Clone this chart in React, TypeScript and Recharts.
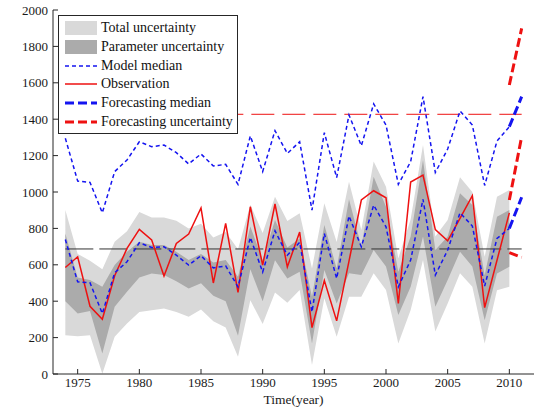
import React from 'react';
import { ComposedChart, Area, Line, XAxis, YAxis, ReferenceLine, Legend } from 'recharts';

// yearly series, 1974-2010
const years = [
  1974, 1975, 1976, 1977, 1978, 1979, 1980, 1981, 1982, 1983, 1984, 1985, 1986,
  1987, 1988, 1989, 1990, 1991, 1992, 1993, 1994, 1995, 1996, 1997, 1998, 1999,
  2000, 2001, 2002, 2003, 2004, 2005, 2006, 2007, 2008, 2009, 2010,
];
const observed = [
  585, 644, 372, 301, 540, 690, 795, 736, 538, 717, 769, 912, 500,
  828, 448, 919, 598, 934, 588, 780, 255, 514, 292, 620, 956, 1007,
  968, 388, 1055, 1093, 793, 732, 855, 980, 365, 625, 885,
];
const modelMedian = [
  739, 506, 501, 332, 556, 617, 721, 695, 699, 653, 598, 650, 583,
  594, 479, 750, 560, 787, 653, 723, 341, 772, 525, 868, 699, 928,
  809, 479, 626, 960, 543, 681, 886, 813, 483, 745, 800,
];
const peakMedian = [
  1295, 1060, 1053, 886, 1112, 1176, 1276, 1249, 1258, 1216, 1154, 1209, 1143,
  1152, 1042, 1308, 1112, 1337, 1212, 1276, 901, 1326, 1079, 1423, 1254, 1484,
  1368, 1042, 1167, 1524, 1107, 1236, 1445, 1368, 1036, 1280, 1359,
];
const totalLow = [
  213, 208, 213, 2, 204, 277, 341, 350, 360, 341, 314, 355, 290,
  255, 95, 405, 275, 448, 392, 462, 50, 416, 205, 425, 425, 553,
  462, 168, 352, 626, 233, 388, 553, 480, 167, 460, 479,
];
const totalHigh = [
  901, 660, 622, 575, 727, 785, 890, 860, 860, 842, 800, 825, 750,
  780, 686, 930, 775, 974, 840, 883, 580, 938, 725, 1057, 791, 1167,
  1029, 635, 850, 1258, 755, 846, 1081, 1000, 644, 974, 1011,
];
const paramLow = [
  400, 332, 346, 112, 370, 452, 530, 552, 544, 510, 470, 498, 430,
  400, 210, 575, 400, 625, 525, 562, 168, 571, 388, 553, 544, 681,
  590, 324, 480, 755, 370, 517, 672, 590, 295, 552, 589,
];
const paramHigh = [
  772, 530, 516, 480, 599, 672, 727, 709, 709, 672, 626, 660, 612,
  626, 534, 810, 626, 846, 695, 745, 425, 819, 580, 960, 700, 1084,
  919, 562, 755, 1176, 681, 755, 993, 929, 543, 864, 901,
];

// forecast step 2010 -> 2011
const forecastYears = [2010, 2011];
const forecastMedian = [800, 971];
const forecastPeakMedian = [1359, 1524];
const forecastUpper = [1588, 1899];
const forecastMiddle = [956, 1304];
const forecastLower = [667, 641];

// horizontal reference levels
const meanLevel = 687;
const peakLevel = 1427;
const levelStart = 1974;
const levelEnd = 2011;

const xTicks = [1975, 1980, 1985, 1990, 1995, 2000, 2005, 2010];
const yTicks = [0, 200, 400, 600, 800, 1000, 1200, 1400, 1600, 1800, 2000];

const BAND_LIGHT = '#d9d9d9';
const BAND_DARK = '#ababab';
const BLUE = '#1414f0';
const RED = '#ee1111';
const AXIS = '#262626';
const FONT = "'Liberation Serif', 'Times New Roman', serif";

const data = [...years, 2011].map((year, i) => {
  const f = forecastYears.indexOf(year);
  const inRange = i < years.length;
  return {
    year,
    observed: observed[i],
    modelMedian: modelMedian[i],
    peakMedian: peakMedian[i],
    total: inRange ? [totalLow[i], totalHigh[i]] : undefined,
    param: inRange ? [paramLow[i], paramHigh[i]] : undefined,
    fcMedian: f >= 0 ? forecastMedian[f] : undefined,
    fcPeakMedian: f >= 0 ? forecastPeakMedian[f] : undefined,
    fcUpper: f >= 0 ? forecastUpper[f] : undefined,
    fcMiddle: f >= 0 ? forecastMiddle[f] : undefined,
    fcLower: f >= 0 ? forecastLower[f] : undefined,
  };
});

const legendItems = [
  { label: 'Total uncertainty', kind: 'band', color: BAND_LIGHT },
  { label: 'Parameter uncertainty', kind: 'band', color: BAND_DARK },
  { label: 'Model median', kind: 'line', color: BLUE, width: 1.5, dash: '4 3' },
  { label: 'Observation', kind: 'line', color: RED, width: 1.5, dash: undefined },
  { label: 'Forecasting median', kind: 'line', color: BLUE, width: 3, dash: '9 4' },
  { label: 'Forecasting uncertainty', kind: 'line', color: RED, width: 3, dash: '9 4' },
];

const LegendBox = () => (
  <div
    style={{
      border: `1.5px solid ${AXIS}`,
      background: '#fff',
      padding: '3px 4px 2px 6px',
      fontFamily: FONT,
      fontSize: 14,
      color: '#111',
    }}
  >
    {legendItems.map((item) => (
      <div key={item.label} style={{ display: 'flex', alignItems: 'center', height: 18.7 }}>
        <svg width={32} height={14} style={{ marginRight: 4 }}>
          {item.kind === 'band' ? (
            <rect x={0} y={0} width={32} height={14} fill={item.color} />
          ) : (
            <line
              x1={0}
              y1={7}
              x2={32}
              y2={7}
              stroke={item.color}
              strokeWidth={item.width}
              strokeDasharray={item.dash}
            />
          )}
        </svg>
        <span style={{ whiteSpace: 'nowrap' }}>{item.label}</span>
      </div>
    ))}
  </div>
);

const tickStyle = { fontFamily: FONT, fontSize: 13, fill: '#1a1a1a' };

const App = () => (
  <div style={{ position: 'absolute', left: 0, top: 0, background: '#fff' }}>
    <ComposedChart width={541} height={407} data={data} margin={{ top: 10, right: 7, bottom: 0, left: 0 }}>
      <XAxis
        dataKey="year"
        type="number"
        domain={[1973, 2012]}
        ticks={xTicks}
        tickSize={-5}
        tickMargin={9}
        height={33}
        tick={tickStyle}
        axisLine={{ stroke: AXIS }}
        tickLine={{ stroke: AXIS }}
        label={{ value: 'Time(year)', position: 'insideBottom', offset: 3, style: { fontFamily: FONT, fontSize: 13.5, fill: '#1a1a1a' } }}
      />
      <XAxis
        xAxisId="top"
        orientation="top"
        type="number"
        dataKey="year"
        domain={[1973, 2012]}
        ticks={xTicks}
        tick={false}
        tickSize={-5}
        height={0}
        axisLine={{ stroke: AXIS }}
        tickLine={{ stroke: AXIS }}
      />
      <YAxis
        domain={[0, 2000]}
        ticks={yTicks}
        tickSize={-5}
        tickMargin={10}
        width={53}
        tick={tickStyle}
        axisLine={{ stroke: AXIS }}
        tickLine={{ stroke: AXIS }}
      />
      <YAxis
        yAxisId="right"
        orientation="right"
        domain={[0, 2000]}
        ticks={yTicks}
        tick={false}
        tickSize={-5}
        width={0}
        axisLine={{ stroke: AXIS }}
        tickLine={{ stroke: AXIS }}
      />
      <Legend
        layout="horizontal"
        verticalAlign="middle"
        align="center"
        wrapperStyle={{ top: 15, left: 58, width: 'auto' }}
        content={() => <LegendBox />}
      />

      <Area dataKey="total" type="linear" stroke="none" fill={BAND_LIGHT} fillOpacity={1} dot={false} activeDot={false} isAnimationActive={false} />
      <Area dataKey="param" type="linear" stroke="none" fill={BAND_DARK} fillOpacity={1} dot={false} activeDot={false} isAnimationActive={false} />

      <ReferenceLine
        segment={[{ x: levelStart, y: meanLevel }, { x: levelEnd, y: meanLevel }]}
        stroke="#333"
        strokeWidth={1}
        strokeDasharray="28 6"
      />
      <ReferenceLine
        segment={[{ x: levelStart, y: peakLevel }, { x: levelEnd, y: peakLevel }]}
        stroke={RED}
        strokeWidth={1}
        strokeDasharray="23 8"
      />

      <Line dataKey="observed" type="linear" stroke={RED} strokeWidth={1.5} dot={false} activeDot={false} isAnimationActive={false} />
      <Line dataKey="modelMedian" type="linear" stroke={BLUE} strokeWidth={1.5} strokeDasharray="4 3" dot={false} activeDot={false} isAnimationActive={false} />
      <Line dataKey="peakMedian" type="linear" stroke={BLUE} strokeWidth={1.5} strokeDasharray="4 3" dot={false} activeDot={false} isAnimationActive={false} />

      <Line dataKey="fcMedian" type="linear" stroke={BLUE} strokeWidth={3} strokeDasharray="9 4" dot={false} activeDot={false} isAnimationActive={false} />
      <Line dataKey="fcPeakMedian" type="linear" stroke={BLUE} strokeWidth={3} strokeDasharray="9 4" dot={false} activeDot={false} isAnimationActive={false} />
      <Line dataKey="fcUpper" type="linear" stroke={RED} strokeWidth={3} strokeDasharray="9 4" dot={false} activeDot={false} isAnimationActive={false} />
      <Line dataKey="fcMiddle" type="linear" stroke={RED} strokeWidth={3} strokeDasharray="9 4" dot={false} activeDot={false} isAnimationActive={false} />
      <Line dataKey="fcLower" type="linear" stroke={RED} strokeWidth={3} strokeDasharray="9 4" dot={false} activeDot={false} isAnimationActive={false} />
    </ComposedChart>
  </div>
);

export default App;
